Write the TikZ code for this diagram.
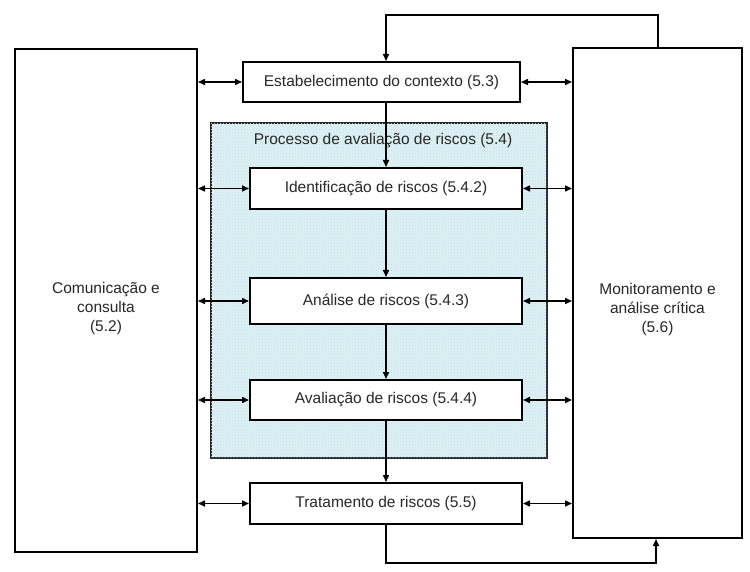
\documentclass[tikz,border=0pt]{standalone}
\usepackage{fontspec}
\setmainfont{Liberation Sans}
\usepackage{tikz}
\usepackage{xcolor}
\usetikzlibrary{arrows.meta,positioning,patterns}
\definecolor{checkblue}{RGB}{184,224,232}
\definecolor{textgray}{RGB}{40,40,40}

\begin{document}
\begin{tikzpicture}[
    x=1pt, y=-1pt,
    every node/.style={font=\fontsize{15.5}{19}\selectfont, text=textgray},
    node distance=60pt,
    stepbox/.style={rectangle,draw=black,fill=white,line width=2pt,
      minimum width=272pt,minimum height=41pt,inner sep=0pt},
    bigbox/.style={rectangle,draw=black,fill=white,line width=2pt,inner sep=0pt},
    area/.style={rectangle,draw=black!85,line width=2pt,inner sep=0pt,
      fill=checkblue!45!white,postaction={pattern=crosshatch dots,pattern color=checkblue}},
    arrow/.style={-{Triangle[length=7pt,width=6pt]},line width=1.5pt},
    both/.style={{Triangle[length=7pt,width=6pt]}-{Triangle[length=7pt,width=6pt]},line width=1.5pt}
  ]
    \useasboundingbox (0,0) rectangle (750,572);

    % side boxes
    \node[bigbox,minimum width=182pt,minimum height=503pt] (comm) at (106,300.5) {};
    \node[align=center] (commtext) at (106,308) {Comunicação e\\consulta\\(5.2)};
    \node[bigbox,minimum width=169pt,minimum height=490pt] (mon) at (657.5,293) {};
    \node[align=center] (montext) at (657.5,309) {Monitoramento e\\análise crítica\\(5.6)};

    % risk assessment area
    \node[area,minimum width=336pt,minimum height=335pt] (process) at (379,290.5) {};
    \node (processtext) at (383,141) {Processo de avaliação de riscos (5.4)};

    % steps
    \node[stepbox,minimum width=277pt,minimum height=40pt] (context) at (381.5,82) {Estabelecimento do contexto (5.3)};
    \node[stepbox] (ident) at (386,188.5) {Identificação de riscos (5.4.2)};
    \node[stepbox,minimum height=46pt,below=67pt of ident] (analysis) {Análise de riscos (5.4.3)};
    \node[stepbox,minimum height=40pt,below=54pt of analysis] (evaluation) {Avaliação de riscos (5.4.4)};
    \node[stepbox,below=61pt of evaluation] (treatment) {Tratamento de riscos (5.5)};

    % main flow
    \draw[arrow] (context.south -| ident.north) -- (ident.north);
    \draw[arrow] (ident) -- (analysis);
    \draw[arrow] (analysis) -- (evaluation);
    \draw[arrow] (evaluation) -- (treatment);

    % links to the side boxes
    \foreach \s in {context,ident,analysis,evaluation,treatment} {
      \draw[both] (\s.west -| comm.east) -- (\s.west);
      \draw[both] (\s.east) -- (\s.east -| mon.west);
    }

    % feedback loops
    \coordinate (topturn) at (658,15);
    \coordinate (botturn) at (656,563);
    \draw[arrow] (mon.north -| topturn) -- (topturn) -| (context.north -| ident.north);
    \draw[arrow] (treatment.south) |- (botturn) -- (mon.south -| botturn);
  \end{tikzpicture}
\end{document}
